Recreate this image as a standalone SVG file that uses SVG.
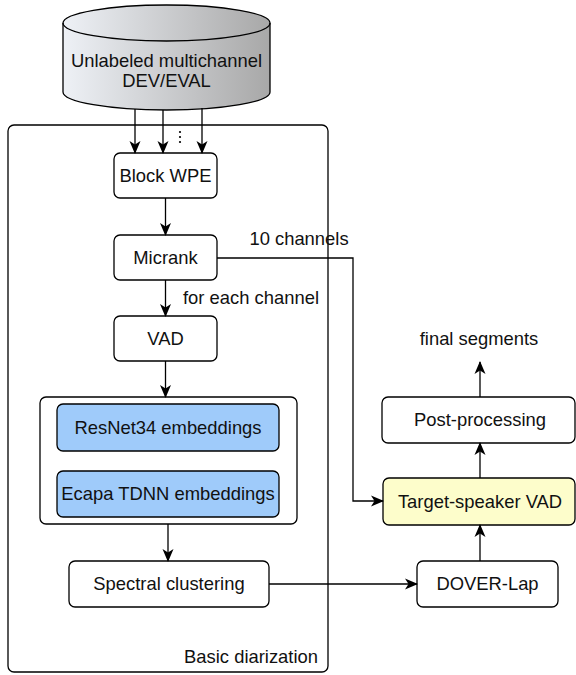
<svg xmlns="http://www.w3.org/2000/svg" width="576" height="675" viewBox="0 0 576 675">
<style>
.box{fill:#fff;stroke:#000;stroke-width:1.3}
.t{font-family:"Liberation Sans",Arial,sans-serif;font-size:18.4px;fill:#111;text-anchor:middle}
.c{fill:none;stroke:#000;stroke-width:1.3}
</style>
<defs>
<linearGradient id="g" x1="0" y1="0" x2="1" y2="0">
<stop offset="0" stop-color="#eef1f6"/>
<stop offset="1" stop-color="#a8a8a8"/>
</linearGradient>
<marker id="a" markerWidth="14" markerHeight="12" refX="12" refY="6" orient="auto" markerUnits="userSpaceOnUse">
<path d="M0,0.5 L13,6 L0,11.5 L3.5,6 Z" fill="#000"/>
</marker>
</defs>
<g id="container">
<rect x="8" y="125" width="320" height="547" rx="6" class="box" style="fill:none"/>
<text x="318" y="663" class="t" style="text-anchor:end">Basic diarization</text>
</g>
<g id="db">
<path d="M63,23 L63,92 A103.5,18 0 0 0 270,92 L270,23 A103.5,18 0 0 0 63,23 Z" fill="url(#g)" stroke="#000" stroke-width="1.3"/>
<path d="M63,23 A103.5,18 0 0 0 270,23" fill="none" stroke="#000" stroke-width="1.3"/>
<text x="166.5" y="67" class="t">Unlabeled multichannel</text>
<text x="166.5" y="87" class="t">DEV/EVAL</text>
</g>
<g id="wpe"><rect x="114" y="153" width="103" height="45" rx="6" class="box"/><text x="165.5" y="182" class="t">Block WPE</text></g>
<g id="micrank"><rect x="114" y="235" width="103" height="45" rx="6" class="box"/><text x="165.5" y="264" class="t">Micrank</text></g>
<g id="vad"><rect x="114" y="316" width="103" height="45" rx="6" class="box"/><text x="165.5" y="345" class="t">VAD</text></g>
<g id="emb">
<rect x="40" y="397" width="257" height="127" rx="6" class="box"/>
<rect x="57" y="404" width="222" height="47" rx="6" fill="#9fcbfa" stroke="#000" stroke-width="1.3"/>
<text x="168" y="434" class="t">ResNet34 embeddings</text>
<rect x="57" y="471" width="222" height="46" rx="6" fill="#9fcbfa" stroke="#000" stroke-width="1.3"/>
<text x="168" y="500" class="t">Ecapa TDNN embeddings</text>
</g>
<g id="sc"><rect x="69" y="561" width="200" height="46" rx="6" class="box"/><text x="169" y="590" class="t">Spectral clustering</text></g>
<g id="dover"><rect x="417" y="561" width="141" height="46" rx="6" class="box"/><text x="487.5" y="590" class="t">DOVER-Lap</text></g>
<g id="tsvad"><rect x="383" y="478" width="192" height="47" rx="6" fill="#fdfdcb" stroke="#000" stroke-width="1.3"/><text x="480" y="508" class="t">Target-speaker VAD</text></g>
<g id="post"><rect x="382" y="397" width="193" height="46" rx="6" class="box"/><text x="480" y="426" class="t">Post-processing</text></g>
<g id="labels">
<text x="299" y="245" class="t">10 channels</text>
<text x="251" y="304" class="t">for each channel</text>
<text x="479" y="345" class="t">final segments</text>
</g>
<g id="connectors">
<path d="M135,109 V153" class="c" marker-end="url(#a)"/>
<path d="M163,110 V153" class="c" marker-end="url(#a)"/>
<path d="M202,108 V153" class="c" marker-end="url(#a)"/>
<circle cx="180" cy="132" r="1.1"/><circle cx="180" cy="137" r="1.1"/><circle cx="180" cy="142" r="1.1"/>
<path d="M165.5,198 V235" class="c" marker-end="url(#a)"/>
<path d="M165.5,280 V316" class="c" marker-end="url(#a)"/>
<path d="M165.5,361 V397" class="c" marker-end="url(#a)"/>
<path d="M168,524 V561" class="c" marker-end="url(#a)"/>
<path d="M269,584 H417" class="c" marker-end="url(#a)"/>
<path d="M217,258 H353 V501 H383" class="c" marker-end="url(#a)"/>
<path d="M480,561 V525" class="c" marker-end="url(#a)"/>
<path d="M480,478 V443" class="c" marker-end="url(#a)"/>
<path d="M480,397 V362" class="c" marker-end="url(#a)"/>
</g>
</svg>
